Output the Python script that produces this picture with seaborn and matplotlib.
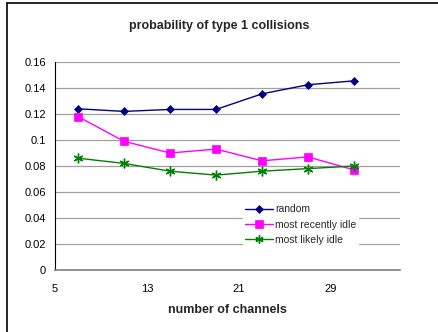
import matplotlib
matplotlib.use("Agg")
import matplotlib.pyplot as plt
import seaborn as sns
import pandas as pd
from matplotlib.lines import Line2D

channels = [7, 11, 15, 19, 23, 27, 31]
random_vals = [0.124, 0.122, 0.1235, 0.1235, 0.1355, 0.1425, 0.1455]
recent_vals = [0.118, 0.099, 0.090, 0.093, 0.084, 0.087, 0.077]
likely_vals = [0.086, 0.082, 0.076, 0.073, 0.076, 0.078, 0.080]
series_names = ["random", "most recently idle", "most likely idle"]
xticks = [5, 13, 21, 29]
yticks = [0, 0.02, 0.04, 0.06, 0.08, 0.1, 0.12, 0.14, 0.16]
ytick_labels = ["0", "0.02", "0.04", "0.06", "0.08", "0.1", "0.12", "0.14", "0.16"]

sns.set_style("white")
plt.rcParams['font.family'] = ['Liberation Sans', 'DejaVu Sans']

df = pd.DataFrame({
    "channels": channels * 3,
    "value": random_vals + recent_vals + likely_vals,
    "series": [series_names[0]] * 7 + [series_names[1]] * 7 + [series_names[2]] * 7,
})

fig = plt.figure(figsize=(4.38, 3.32), dpi=100)
ax = fig.add_axes([55 / 438, 1 - 270 / 332, (400 - 55) / 438, (270 - 62) / 332])

palette = {series_names[0]: "#000080", series_names[1]: "#ff00ff", series_names[2]: "#008000"}
markers = {series_names[0]: "D", series_names[1]: "s", series_names[2]: (6, 2, 0)}
sizes = {series_names[0]: 4.5, series_names[1]: 6, series_names[2]: 7}

sns.lineplot(data=df, x="channels", y="value", hue="series", palette=palette,
             ax=ax, legend=False, linewidth=1.0)
for name in series_names:
    sub = df[df["series"] == name]
    ax.plot(sub["channels"], sub["value"], linestyle="none", marker=markers[name],
            markersize=sizes[name], color=palette[name], markeredgecolor=palette[name],
            markeredgewidth=1.0 if name == series_names[2] else 0.5)

ax.set_xlim(5, 35)
ax.set_ylim(0, 0.16)
ax.set_xticks(xticks)
ax.set_yticks(yticks)
ax.set_yticklabels(ytick_labels)
ax.tick_params(axis="both", labelsize=8, length=3, width=0.8, colors="black", direction="out")
ax.tick_params(axis="x", pad=7)
ax.yaxis.grid(True, color="#a0a0a0", linewidth=0.9)
ax.set_axisbelow(True)
for side in ["top", "right"]:
    ax.spines[side].set_visible(False)
ax.spines["left"].set_color("black")
ax.spines["left"].set_linewidth(0.8)
ax.spines["bottom"].set_color("#808080")
ax.spines["bottom"].set_linewidth(1.2)

ax.set_xlabel("number of channels", fontsize=9, fontweight="bold", labelpad=7)
ax.set_ylabel("")
fig.text(0.5, 1 - 26 / 332, "probability of type 1 collisions", ha="center", va="center",
         fontsize=9, fontweight="bold")

handles = [Line2D([0], [0], color=palette[n], marker=markers[n], markersize=sizes[n] * 0.85,
                  linewidth=1.0, markeredgewidth=1.0 if n == series_names[2] else 0.5)
           for n in series_names]
leg = ax.legend(handles, series_names, loc="upper left", bbox_to_anchor=(0.53, 0.35),
                fontsize=7.5, frameon=True, fancybox=False, framealpha=1, edgecolor="white",
                handlelength=2.7, handletextpad=0.15, labelspacing=0.5, borderpad=0.2)

# frame of the chart area (only top and left edges are visible in the crop)
fig.add_artist(Line2D([6.5 / 438, 6.5 / 438], [0, 1 - 2.5 / 332], transform=fig.transFigure,
                      color="black", linewidth=1.2))
fig.add_artist(Line2D([6.5 / 438, 1], [1 - 2.5 / 332, 1 - 2.5 / 332], transform=fig.transFigure,
                      color="black", linewidth=1.2))

fig.savefig("out.png", dpi=100)
